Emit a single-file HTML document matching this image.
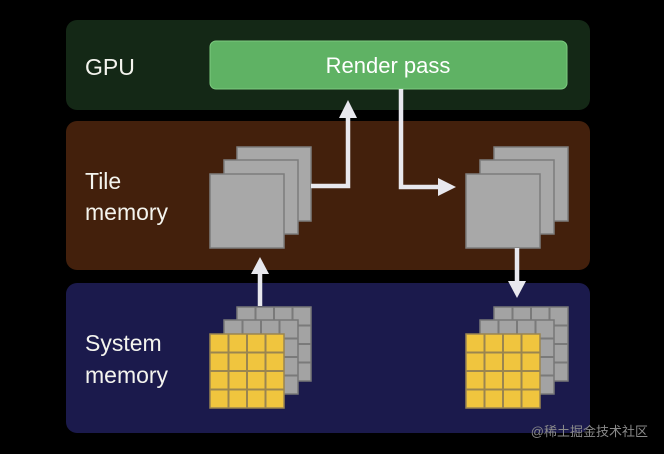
<!DOCTYPE html>
<html><head><meta charset="utf-8"><style>
html,body{margin:0;padding:0;background:#000;width:664px;height:454px;overflow:hidden}
svg{display:block}
text{font-family:"Liberation Sans","Noto Sans CJK SC",sans-serif}
</style></head><body>
<svg width="664" height="454" viewBox="0 0 664 454" xmlns="http://www.w3.org/2000/svg">
<defs>
<g id="sq"><rect x="0" y="0" width="74" height="74" fill="#a8a8a8" stroke="#7c7c7c" stroke-width="1.5"/></g>
<g id="gg"><rect x="0" y="0" width="74" height="74" fill="#a3a3a3" stroke="#777" stroke-width="1.5"/>
<path d="M18.5 0V74M37 0V74M55.5 0V74M0 18.5H74M0 37H74M0 55.5H74" stroke="#7a7a7a" stroke-width="2"/></g>
<g id="yg"><rect x="0" y="0" width="74" height="74" fill="#f0c53e" stroke="#9a8550" stroke-width="1.5"/>
<path d="M18.5 0V74M37 0V74M55.5 0V74M0 18.5H74M0 37H74M0 55.5H74" stroke="#9a8550" stroke-width="2"/></g>
</defs>
<rect x="66" y="20" width="524" height="90" rx="11" fill="#142816"/>
<rect x="66" y="121" width="524" height="149" rx="11" fill="#43200c"/>
<rect x="66" y="283" width="524" height="150" rx="11" fill="#1b1a4c"/>
<rect x="210" y="41" width="357" height="48" rx="6" fill="#5fb264" stroke="#7ccb7f" stroke-width="1"/>
<text x="388" y="73" fill="#fff" font-size="22" text-anchor="middle">Render pass</text>
<text x="85" y="75" fill="#f4f4ee" font-size="23">GPU</text>
<text x="85" y="189" fill="#f4f4ee" font-size="23">Tile</text>
<text x="85" y="220" fill="#f4f4ee" font-size="23">memory</text>
<text x="85" y="351" fill="#f4f4ee" font-size="23">System</text>
<text x="85" y="383" fill="#f4f4ee" font-size="23">memory</text>
<use href="#sq" x="237" y="147"/><use href="#sq" x="224" y="160"/><use href="#sq" x="210" y="174"/>
<use href="#sq" x="494" y="147"/><use href="#sq" x="480" y="160"/><use href="#sq" x="466" y="174"/>
<use href="#gg" x="237" y="307"/><use href="#gg" x="224" y="320"/><use href="#yg" x="210" y="334"/>
<use href="#gg" x="494" y="307"/><use href="#gg" x="480" y="320"/><use href="#yg" x="466" y="334"/>
<g fill="none" stroke="#e8e8ee" stroke-width="4.5">
<path d="M260 306V272"/>
<path d="M311 186H348V116"/>
<path d="M401 89V187H440"/>
<path d="M517 248V282"/>
</g>
<g fill="#e8e8ee">
<path d="M260 257L251 274H269Z"/>
<path d="M348 100L339 118H357Z"/>
<path d="M456 187L438 178V196Z"/>
<path d="M517 298L508 281H526Z"/>
</g>
<text x="648" y="436" fill="#8a8a8a" font-size="13" text-anchor="end">@稀土掘金技术社区</text>
</svg>
</body></html>
